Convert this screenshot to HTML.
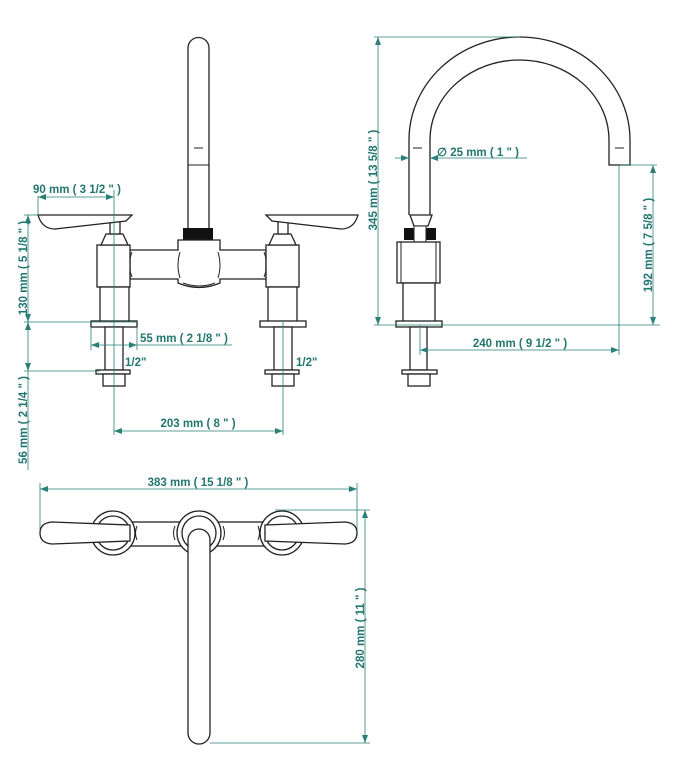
<!DOCTYPE html>
<html><head><meta charset="utf-8"><style>
html,body{margin:0;padding:0;background:#fff}
svg{display:block}
text{font-family:"Liberation Sans",sans-serif;font-weight:bold;font-size:11.5px;fill:#23766f}
.d{stroke:#2a7f78;stroke-width:0.8;fill:none}
.o{stroke:#222;stroke-width:1.3;fill:#fff}
.t{stroke:#222;stroke-width:1;fill:none}
</style></head><body>
<svg width="674" height="772" viewBox="0 0 674 772" xmlns="http://www.w3.org/2000/svg">
<defs>
<marker id="a" markerWidth="8" markerHeight="6" refX="8" refY="3" orient="auto-start-reverse" markerUnits="userSpaceOnUse"><path d="M0,0 L8,3 L0,6 z" fill="#2a7f78"/></marker>
</defs>

<!-- ===== FRONT VIEW ===== -->
<path class="o" d="M188,240 L188,48 A10.5,10.5 0 0 1 209,48 L209,240"/>
<line class="t" x1="188" y1="165" x2="209" y2="165"/>
<line class="t" x1="194" y1="148" x2="203" y2="148"/>
<rect x="183" y="228" width="30" height="12" fill="#111"/>
<path class="o" d="M130,250 L178,250 L178,240 L220,240 L220,250 L266,250 L266,279 L220,279 L220,283 Q199,292 178,283 L178,279 L130,279 Z"/>
<path class="t" d="M180,252 Q176,265 180,278 M218,252 Q222,265 218,278 M132,252 Q127,265 132,277 M264,252 Q269,265 264,277"/>
<path class="t" d="M183,283 Q199,289 215,283"/>
<rect class="o" x="97" y="245" width="33" height="42"/>
<rect class="o" x="100" y="287" width="29" height="35"/>
<path class="o" d="M101,245 L106,234 L123,234 L128,245 Z"/>
<path class="o" d="M110,234 L110,222 Q115,214 120,222 L120,234 Z"/>
<path class="o" d="M38,215 L132,215 L126,221 L55,229 Q42,229 38,215 Z"/>
<rect class="o" x="91" y="321" width="46" height="6"/>
<rect class="o" x="105" y="327" width="18" height="43"/>
<rect class="o" x="96" y="370" width="34" height="4"/>
<rect class="o" x="103" y="374" width="22" height="12"/>
<rect class="o" x="266" y="245" width="33" height="42"/>
<rect class="o" x="268" y="287" width="29" height="35"/>
<path class="o" d="M269,245 L274,234 L291,234 L296,245 Z"/>
<path class="o" d="M278,234 L278,222 Q283,214 288,222 L288,234 Z"/>
<path class="o" d="M266,215 L358,215 Q354,229 341,229 L272,221 Z"/>
<rect class="o" x="260" y="321" width="46" height="6"/>
<rect class="o" x="274" y="327" width="18" height="43"/>
<rect class="o" x="265" y="370" width="34" height="4"/>
<rect class="o" x="272" y="374" width="22" height="12"/>

<line class="d" x1="38" y1="196" x2="38" y2="215"/>
<line class="d" x1="114" y1="190" x2="114" y2="435"/>
<line class="d" x1="38" y1="197" x2="114" y2="197" marker-start="url(#a)" marker-end="url(#a)"/>
<text x="33" y="193">90 mm ( 3 1/2 " )</text>
<line class="d" x1="24" y1="215" x2="38" y2="215"/>
<line class="d" x1="24" y1="322" x2="137" y2="322"/>
<line class="d" x1="24" y1="371" x2="100" y2="371"/>
<line class="d" x1="28" y1="215" x2="28" y2="322" marker-start="url(#a)" marker-end="url(#a)"/>
<line class="d" x1="28" y1="322" x2="28" y2="371" marker-start="url(#a)" marker-end="url(#a)"/>
<line class="d" x1="28" y1="371" x2="28" y2="470"/>
<text transform="translate(27,268) rotate(-90)" text-anchor="middle">130 mm ( 5 1/8 " )</text>
<text transform="translate(27,420) rotate(-90)" text-anchor="middle">56 mm ( 2 1/4 " )</text>
<line class="d" x1="91" y1="327" x2="91" y2="350"/>
<line class="d" x1="137" y1="327" x2="137" y2="350"/>
<line class="d" x1="91" y1="345" x2="137" y2="345" marker-start="url(#a)" marker-end="url(#a)"/>
<line class="d" x1="137" y1="345" x2="232" y2="345"/>
<text x="140" y="342">55 mm ( 2 1/8 " )</text>
<text x="125" y="366">1/2"</text>
<text x="296" y="366">1/2"</text>
<line class="d" x1="283" y1="320" x2="283" y2="435"/>
<line class="d" x1="114" y1="431" x2="283" y2="431" marker-start="url(#a)" marker-end="url(#a)"/>
<text x="198" y="427" text-anchor="middle">203 mm ( 8 " )</text>

<!-- ===== SIDE VIEW ===== -->
<path class="o" d="M409,215 L409,140 A110.5,103 0 0 1 630,140 L630,165 L609,165 L609,140 A89.5,80 0 0 0 430,140 L430,215"/>
<line class="t" x1="413" y1="148" x2="422" y2="148"/>
<line class="t" x1="615" y1="148" x2="624" y2="148"/>
<path class="o" d="M410,215 L432,215 L428,226 L414,226 Z"/>
<path d="M404,228 L436,228 L436,240 L404,240 Z" fill="#111"/>
<rect x="414" y="226" width="12" height="16" fill="#fff" stroke="#222"/>
<rect class="o" x="397" y="242" width="43" height="41"/>
<line class="t" x1="401" y1="242" x2="401" y2="283"/>
<line class="t" x1="436" y1="242" x2="436" y2="283"/>
<rect class="o" x="403" y="283" width="32" height="39"/>
<rect class="o" x="396" y="321" width="46" height="6"/>
<rect class="o" x="410" y="327" width="17" height="43"/>
<rect class="o" x="402" y="370" width="35" height="4"/>
<rect class="o" x="408" y="374" width="22" height="12"/>

<line class="d" x1="374" y1="37" x2="520" y2="37"/>
<line class="d" x1="374" y1="325" x2="660" y2="325"/>
<line class="d" x1="378" y1="37" x2="378" y2="325" marker-start="url(#a)" marker-end="url(#a)"/>
<text transform="translate(377,180) rotate(-90)" text-anchor="middle">345 mm ( 13 5/8 " )</text>
<line class="d" x1="395" y1="158" x2="409" y2="158" marker-end="url(#a)"/>
<line class="d" x1="430" y1="158" x2="527" y2="158" marker-start="url(#a)"/>
<text x="437" y="156">∅ 25 mm ( 1 " )</text>
<line class="d" x1="620" y1="165" x2="657" y2="165"/>
<line class="d" x1="653" y1="165" x2="653" y2="325" marker-start="url(#a)" marker-end="url(#a)"/>
<text transform="translate(652,245) rotate(-90)" text-anchor="middle">192 mm ( 7 5/8 " )</text>
<line class="d" x1="619" y1="165" x2="619" y2="355"/>
<line class="d" x1="420" y1="325" x2="420" y2="355"/>
<line class="d" x1="420" y1="350" x2="619" y2="350" marker-start="url(#a)" marker-end="url(#a)"/>
<text x="520" y="347" text-anchor="middle">240 mm ( 9 1/2 " )</text>

<!-- ===== TOP VIEW ===== -->
<line class="d" x1="40" y1="483" x2="40" y2="530"/>
<line class="d" x1="357" y1="483" x2="357" y2="530"/>
<line class="d" x1="40" y1="489" x2="357" y2="489" marker-start="url(#a)" marker-end="url(#a)"/>
<text x="198" y="486" text-anchor="middle">383 mm ( 15 1/8 " )</text>
<rect class="o" x="125" y="522" width="150" height="24"/>
<circle class="o" cx="113" cy="533" r="22"/>
<circle class="o" cx="113" cy="533" r="17"/>
<circle class="o" cx="282" cy="533" r="22"/>
<circle class="o" cx="282" cy="533" r="17"/>
<path class="o" d="M130,525 L52,522 Q40,523 40,533 Q40,543 52,544 L130,541 Z"/>
<path class="o" d="M265,525 L345,522 Q357,523 357,533 Q357,543 345,544 L265,541 Z"/>
<path class="t" d="M175,526 Q172,533 175,540 M223,526 Q226,533 223,540 M137,526 Q134,533 137,540 M258,526 Q261,533 258,540"/>
<circle class="o" cx="199" cy="533" r="22"/>
<circle class="o" cx="199" cy="533" r="17"/>
<path class="o" d="M188,540 A11,11 0 0 1 210,540 L210,733 A11,11 0 0 1 188,733 Z"/>
<line class="d" x1="275" y1="510" x2="370" y2="510"/>
<line class="d" x1="210" y1="743" x2="370" y2="743"/>
<line class="d" x1="365" y1="510" x2="365" y2="743" marker-start="url(#a)" marker-end="url(#a)"/>
<text transform="translate(364,628) rotate(-90)" text-anchor="middle">280 mm ( 11 " )</text>
</svg>
</body></html>
